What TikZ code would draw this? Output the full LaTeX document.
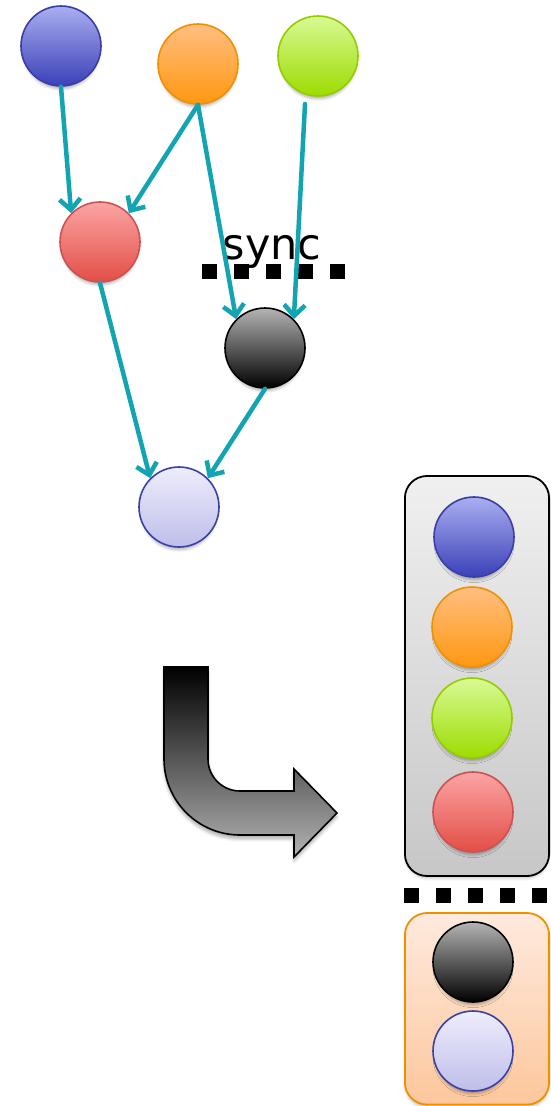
\documentclass[tikz,border=0pt]{standalone}
\usepackage{fontspec}
\newfontfamily\labelfont{DejaVu Sans}
\usetikzlibrary{arrows.meta,shadows.blur}

\definecolor{flowc}{HTML}{12A4B1}
\definecolor{blueT}{HTML}{AAAEF0}\definecolor{blueB}{HTML}{3A40B8}\definecolor{blueD}{HTML}{383EA6}
\definecolor{orT}{HTML}{FFBE80}\definecolor{orB}{HTML}{FF9810}\definecolor{orD}{HTML}{F09000}
\definecolor{grT}{HTML}{D8FA94}\definecolor{grB}{HTML}{9CDC00}\definecolor{grD}{HTML}{94CC00}
\definecolor{rdT}{HTML}{FCA4A4}\definecolor{rdB}{HTML}{E24E46}\definecolor{rdD}{HTML}{CC5252}
\definecolor{bkT}{HTML}{B4B4B4}\definecolor{bkB}{HTML}{000000}
\definecolor{lvT}{HTML}{EEEDFC}\definecolor{lvB}{HTML}{BEBEEA}\definecolor{lvD}{HTML}{3A40AA}
\definecolor{peachT}{HTML}{FEEADE}\definecolor{peachB}{HTML}{FDC79C}

\tikzset{
  x=1pt, y=1pt,
  task/.style={circle, minimum size=80pt, inner sep=0pt, line width=1.6pt,
    blur shadow={shadow xshift=0pt, shadow yshift=-6pt, shadow scale=0.93,
                 shadow blur radius=3pt, shadow opacity=30}},
  tblue/.style={task, draw=blueD, top color=blueT, bottom color=blueB},
  torange/.style={task, draw=orD, top color=orT, bottom color=orB},
  tgreen/.style={task, draw=grD, top color=grT, bottom color=grB},
  tred/.style={task, draw=rdD, top color=rdT, bottom color=rdB},
  tblack/.style={task, draw=black, top color=bkT, bottom color=bkB},
  tlav/.style={task, draw=lvD, top color=lvT, bottom color=lvB},
  flow/.style={draw=flowc, line width=4.5pt, line cap=round,
    -{Straight Barb[length=11pt, width=21pt]}},
  barrier/.style={line width=15pt, dash pattern=on 15pt off 17pt},
  queue/.style={rounded corners=22pt, line width=1.8pt,
    blur shadow={shadow xshift=0pt, shadow yshift=-4pt, shadow scale=0.99,
                 shadow blur radius=3pt, shadow opacity=25}},
}

\begin{document}
\begin{tikzpicture}
\useasboundingbox (0,0) rectangle (550,-1106);

% task graph
\node[tblue]   (blue)   at (61,-46)  {};
\node[torange] (orange) at (198,-64) {};
\node[tgreen]  (green)  at (318,-56) {};
\node[tred]    (red)    at (100,-242) {};
\node[tblack]  (black)  at (265,-348) {};
\node[tlav]    (lav)    at (179,-507) {};
\coordinate (gstart) at (305,-104);

% sync barrier
\draw[barrier] (202,-271.5) -- (346,-271.5);
\node[font=\labelfont\fontsize{43}{48}\selectfont, anchor=base, inner sep=0pt]
  (synclbl) at (272,-259) {sync};

% dependencies
\draw[flow] (blue.south)   -- (red.north west);
\draw[flow] (orange.south) -- (red.north east);
\draw[flow] (orange.south) -- (black.north west);
\draw[flow] (gstart)       -- (black.north east);
\draw[flow] (red.south)    -- (lav.north west);
\draw[flow] (black.south)  -- (lav.north east);

% bent arrow
\path[draw=black, line width=1.6pt, top color=black, bottom color=black!30,
      blur shadow={shadow xshift=0pt, shadow yshift=-4pt, shadow blur radius=3pt, shadow opacity=30}]
  (164,-667) -- (208,-667) -- (208,-759) arc (180:270:32) -- (294,-791)
  -- (294,-769) -- (337,-813) -- (294,-857) -- (294,-835) -- (240,-835)
  arc (270:180:76) -- cycle;

% first queue
\path[queue, draw=black, top color=black!6, bottom color=black!22]
  (404.9,-476) rectangle (549.1,-876);
\node[tblue]   (qblue)   at (474,-537) {};
\node[torange] (qorange) at (472,-627) {};
\node[tgreen]  (qgreen)  at (472,-718) {};
\node[tred]    (qred)    at (473,-812) {};

% barrier between queues
\draw[barrier] (404,-895) -- (550,-895);

% second queue
\path[queue, draw=orD, top color=peachT, bottom color=peachB]
  (404.9,-913) rectangle (549.1,-1104.5);
\node[tblack] (qblack) at (473,-962)  {};
\node[tlav]   (qlav)   at (473,-1051) {};
\end{tikzpicture}
\end{document}
